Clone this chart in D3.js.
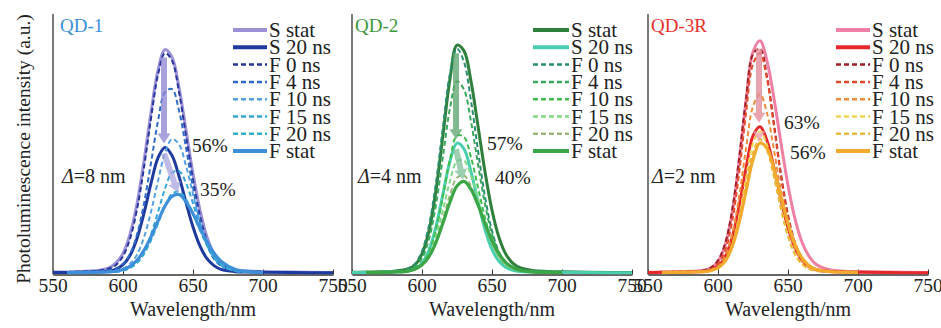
<!DOCTYPE html>
<html>
<head>
<meta charset="utf-8">
<script src="https://cdn.jsdelivr.net/npm/d3@7"></script>
<style>
  html, body { margin: 0; padding: 0; background: #fff; }
</style>
</head>
<body>
<svg id="chart" width="941" height="328"></svg>
<script>
// Wavelength grid (nm) shared by every spectrum
const wavelengths = [550, 560, 570, 580, 590, 595, 600, 605, 610, 615, 620, 625, 630, 635, 640, 645, 650, 655, 660, 665, 670, 680, 690, 700, 720, 750];

const seriesNames = ["S stat", "S 20 ns", "F 0 ns", "F 4 ns", "F 10 ns", "F 15 ns", "F 20 ns", "F stat"];
const panelTitles = ["QD-1", "QD-2", "QD-3R"];
const shiftLabels = ["8 nm", "4 nm", "2 nm"];
const tickValues = [550, 600, 650, 700, 750];

// Quench ratios printed beside the peaks: S 20 ns / S stat and F stat / S stat
const ratioS20 = [56, 57, 63];
const ratioFStat = [35, 40, 56];

// QD-1 photoluminescence spectra (a.u., S stat peak = 1)
const qd1SStat = [0.004,0.005,0.007,0.010,0.023,0.045,0.087,0.172,0.309,0.500,0.716,0.904,0.997,0.963,0.828,0.638,0.443,0.280,0.161,0.086,0.046,0.015,0.009,0.006,0.004,0.002];
const qd1S20   = [0.002,0.002,0.003,0.004,0.009,0.017,0.037,0.078,0.154,0.267,0.400,0.514,0.560,0.524,0.432,0.315,0.205,0.120,0.064,0.033,0.016,0.006,0.004,0.003,0.002,0.001];
const qd1F0    = [null,0.005,0.006,0.009,0.020,0.036,0.075,0.153,0.284,0.471,0.690,0.885,0.982,0.948,0.808,0.612,0.417,0.255,0.143,0.075,0.039,0.013,0.008,0.006,null,null];
const qd1F4    = [null,0.003,0.004,0.007,0.012,0.020,0.041,0.085,0.172,0.310,0.491,0.678,0.807,0.821,0.725,0.559,0.381,0.230,0.125,0.063,0.032,0.010,0.007,0.004,null,null];
const qd1F10   = [null,0.002,0.003,0.004,0.007,0.010,0.019,0.040,0.082,0.159,0.273,0.411,0.535,0.598,0.574,0.478,0.352,0.228,0.132,0.070,0.035,0.010,0.005,0.004,null,null];
const qd1F15   = [null,0.002,0.002,0.003,0.005,0.006,0.011,0.023,0.047,0.095,0.172,0.272,0.376,0.447,0.455,0.402,0.310,0.211,0.127,0.069,0.035,0.009,0.004,0.003,null,null];
const qd1F20   = [null,0.002,0.002,0.003,0.004,0.006,0.011,0.023,0.045,0.085,0.146,0.222,0.299,0.353,0.363,0.329,0.264,0.190,0.123,0.072,0.039,0.011,0.004,0.003,null,null];
const qd1FStat = [null,0.002,0.002,0.003,0.005,0.008,0.016,0.030,0.057,0.101,0.161,0.232,0.299,0.342,0.350,0.318,0.264,0.200,0.139,0.089,0.053,0.017,0.006,0.003,null,null];

// QD-2
const qd2SStat = [0.003,0.004,0.005,0.008,0.018,0.035,0.083,0.184,0.361,0.603,0.847,0.995,0.970,0.837,0.642,0.442,0.274,0.155,0.081,0.042,0.023,0.010,0.007,0.005,0.003,0.002];
const qd2S20   = [0.002,0.002,0.003,0.005,0.009,0.018,0.043,0.100,0.203,0.346,0.488,0.567,0.542,0.442,0.312,0.190,0.103,0.051,0.024,0.012,0.007,0.004,0.003,0.003,0.002,0.001];
const qd2F0    = [null,0.004,0.005,0.008,0.020,0.041,0.096,0.209,0.395,0.640,0.871,0.980,0.922,0.752,0.535,0.333,0.184,0.092,0.045,0.023,0.014,0.008,0.006,0.004,null,null];
const qd2F4    = [null,0.003,0.004,0.007,0.013,0.027,0.064,0.148,0.299,0.510,0.720,0.837,0.801,0.661,0.476,0.301,0.169,0.086,0.042,0.021,0.012,0.007,0.005,0.004,null,null];
const qd2F10   = [null,0.002,0.003,0.004,0.009,0.017,0.040,0.091,0.190,0.337,0.496,0.600,0.594,0.505,0.373,0.242,0.138,0.071,0.035,0.018,0.010,0.005,0.004,0.003,null,null];
const qd2F15   = [null,0.002,0.003,0.004,0.008,0.015,0.036,0.079,0.159,0.276,0.402,0.488,0.492,0.426,0.326,0.219,0.131,0.071,0.036,0.018,0.010,0.005,0.003,0.002,null,null];
const qd2F20   = [null,0.002,0.002,0.003,0.008,0.014,0.033,0.071,0.139,0.236,0.341,0.416,0.426,0.378,0.296,0.206,0.129,0.072,0.038,0.019,0.010,0.004,0.003,0.002,null,null];
const qd2FStat = [null,0.002,0.002,0.004,0.008,0.017,0.036,0.072,0.134,0.219,0.310,0.380,0.400,0.365,0.297,0.217,0.141,0.084,0.045,0.024,0.012,0.004,0.003,0.002,null,null];

// QD-3R
const qd3SStat = [0.003,0.004,0.005,0.007,0.012,0.022,0.050,0.117,0.254,0.474,0.739,0.949,0.997,0.910,0.749,0.557,0.377,0.232,0.132,0.072,0.038,0.014,0.008,0.006,0.004,0.002];
const qd3S20   = [0.002,0.003,0.003,0.004,0.007,0.013,0.029,0.068,0.149,0.283,0.449,0.589,0.628,0.569,0.451,0.315,0.195,0.108,0.055,0.028,0.014,0.006,0.004,0.003,0.002,0.001];
const qd3F0    = [null,0.004,0.005,0.007,0.012,0.023,0.054,0.125,0.265,0.488,0.746,0.939,0.963,0.843,0.640,0.425,0.250,0.131,0.065,0.031,0.017,0.009,0.006,0.005,null,null];
const qd3F4    = [null,0.004,0.005,0.006,0.010,0.017,0.039,0.094,0.217,0.425,0.685,0.897,0.943,0.832,0.628,0.412,0.238,0.122,0.058,0.028,0.015,0.008,0.005,0.004,null,null];
const qd3F10   = [null,0.003,0.004,0.005,0.008,0.013,0.028,0.070,0.163,0.324,0.534,0.715,0.768,0.687,0.527,0.350,0.204,0.105,0.052,0.024,0.013,0.006,0.004,0.003,null,null];
const qd3F15   = [null,0.003,0.003,0.004,0.006,0.010,0.020,0.051,0.120,0.242,0.406,0.556,0.609,0.550,0.422,0.277,0.157,0.079,0.037,0.018,0.009,0.005,0.003,0.002,null,null];
const qd3F20   = [null,0.002,0.003,0.004,0.006,0.010,0.022,0.052,0.118,0.231,0.380,0.517,0.575,0.527,0.411,0.274,0.158,0.081,0.039,0.017,0.009,0.005,0.003,0.002,null,null];
const qd3FStat = [null,0.002,0.003,0.004,0.006,0.011,0.022,0.050,0.111,0.214,0.351,0.487,0.558,0.535,0.446,0.328,0.213,0.123,0.065,0.032,0.016,0.006,0.004,0.003,null,null];

// Colour sets, one per quantum dot, in seriesNames order
const qd1Colors = ["#9b90d6", "#1f3a9e", "#28369c", "#2f6cc6", "#55a0e0", "#34a4dc", "#2fb0cc", "#3c8fd8"];
const qd2Colors = ["#2f7f3c", "#48cfae", "#2a8f6e", "#3aa85c", "#40bc4a", "#80d888", "#9db87c", "#3aa646"];
const qd3Colors = ["#ee80a3", "#e6282a", "#9e1f24", "#e24c2c", "#ec8c3c", "#f0d455", "#e8b840", "#f2aa2c"];
const titleColors = ["#3a8fda", "#3c963c", "#e8302a"];
const arrowColors = [["#8e86d2", "#aaa4de"], ["#5fa56e", "#7cc09a"], ["#e48b9a", "#ee9aa6"]];

// ---- layout ----
const FONT = "'Liberation Serif'";
const svg = d3.select("#chart");
const baseY = 273, topY = 14, axisY = 274.5;
const panelLeft = [53, 352, 648];
const panelW = 280;
const yMax = [1.156, 1.131, 1.112];
const lineStyle = [
  { w: 3, dash: null }, { w: 3, dash: null },
  { w: 2, dash: "5,3" }, { w: 2, dash: "5,3" }, { w: 2, dash: "5,3" },
  { w: 2, dash: "5,3" }, { w: 2, dash: "5,3" }, { w: 3.2, dash: null }
];

const panels = [
  { series: [qd1SStat, qd1S20, qd1F0, qd1F4, qd1F10, qd1F15, qd1F20, qd1FStat], colors: qd1Colors,
    legendX: 233, legendLen: 34, pct1: [192, 152], pct2: [200, 196], deltaX: 62, titleX: 60 },
  { series: [qd2SStat, qd2S20, qd2F0, qd2F4, qd2F10, qd2F15, qd2F20, qd2FStat], colors: qd2Colors,
    legendX: 533, legendLen: 36, pct1: [487, 150], pct2: [495, 184], deltaX: 358, titleX: 355 },
  { series: [qd3SStat, qd3S20, qd3F0, qd3F4, qd3F10, qd3F15, qd3F20, qd3FStat], colors: qd3Colors,
    legendX: 836, legendLen: 34, pct1: [784, 129], pct2: [790, 159], deltaX: 652, titleX: 651 }
];

function arrowPath(x1, y1, x2, y2, shaft, head, headLen) {
  const dx = x2 - x1, dy = y2 - y1, len = Math.hypot(dx, dy);
  const ux = dx / len, uy = dy / len, px = -uy, py = ux;
  const bx = x2 - ux * headLen, by = y2 - uy * headLen;
  const p = [
    [x1 + px * shaft / 2, y1 + py * shaft / 2],
    [bx + px * shaft / 2, by + py * shaft / 2],
    [bx + px * head / 2, by + py * head / 2],
    [x2, y2],
    [bx - px * head / 2, by - py * head / 2],
    [bx - px * shaft / 2, by - py * shaft / 2],
    [x1 - px * shaft / 2, y1 - py * shaft / 2]
  ];
  return "M" + p.map(q => q.join(",")).join("L") + "Z";
}

function label(parent, xPos, yPos, size, txt) {
  return parent.append("text").attr("x", xPos).attr("y", yPos)
    .style("font-family", FONT).style("font-size", size + "px")
    .style("fill", "#222").text(txt);
}

panels.forEach((panel, pi) => {
  const x0 = panelLeft[pi];
  const x = d3.scaleLinear().domain([550, 750]).range([x0, x0 + panelW]);
  const y = d3.scaleLinear().domain([0, yMax[pi]]).range([baseY, topY]);
  const g = svg.append("g");

  // x axis line with short inward ticks; labels placed as plain text
  const xAxis = d3.axisBottom(x).tickValues(tickValues).tickSize(0).tickFormat(() => "");
  const ax = g.append("g").attr("transform", `translate(0,${axisY})`).call(xAxis);
  ax.select(".domain").attr("stroke", "#333").attr("stroke-width", 1.3);
  ax.selectAll(".tick text").remove();
  ax.selectAll(".tick").append("line").attr("y1", 0).attr("y2", -5).attr("stroke", "#333").attr("stroke-width", 1);
  tickValues.forEach(t => {
    label(svg, x(t), axisY + 17, 19.5, String(t)).attr("text-anchor", "middle");
  });

  // y axis line
  g.append("line").attr("x1", x0).attr("x2", x0).attr("y1", topY).attr("y2", axisY)
    .attr("stroke", "#333").attr("stroke-width", 1.3);

  // spectra
  const line = d3.line()
    .defined(d => d[1] !== null)
    .x(d => x(d[0])).y(d => y(d[1]))
    .curve(d3.curveCatmullRom.alpha(0.5));
  panel.series.forEach((vals, si) => {
    const pts = wavelengths.map((w, i) => [w, vals[i]]);
    g.append("path").attr("d", line(pts)).attr("fill", "none")
      .attr("stroke", panel.colors[si]).attr("stroke-width", lineStyle[si].w)
      .attr("stroke-dasharray", lineStyle[si].dash)
      .attr("stroke-linejoin", "round").attr("stroke-linecap", "butt");
  });

  // arrows: S stat peak -> S 20 ns peak -> F stat peak
  const peak = vals => { const i = d3.maxIndex(vals); return [wavelengths[i], vals[i]]; };
  const pS = peak(panel.series[0]), p20 = peak(panel.series[1]), pF = peak(panel.series[7]);
  const ax1 = x(pS[0]) - 1;
  g.append("path").attr("d", arrowPath(ax1, y(pS[1]) + 8, ax1, y(p20[1]) - 4, 6, 13, 10))
    .attr("fill", arrowColors[pi][0]).attr("opacity", 0.78);
  g.append("path").attr("d", arrowPath(ax1, y(p20[1]) + 6, x(pF[0]) - 1, y(pF[1]) - 2, 6, 13, 10))
    .attr("fill", arrowColors[pi][1]).attr("opacity", 0.75);

  // ratio labels
  label(svg, panel.pct1[0], panel.pct1[1], 19.5, ratioS20[pi] + "%");
  label(svg, panel.pct2[0], panel.pct2[1], 19.5, ratioFStat[pi] + "%");

  // peak shift label
  const dt = label(svg, panel.deltaX, 183, 20, "");
  dt.append("tspan").style("font-style", "italic").text("Δ");
  dt.append("tspan").text("=" + shiftLabels[pi]);

  // panel title
  label(svg, panel.titleX, 32, 19, panelTitles[pi]).style("fill", titleColors[pi]);

  // legend
  seriesNames.forEach((name, si) => {
    const cy = 30 + si * 17.3;
    g.append("line").attr("x1", panel.legendX).attr("x2", panel.legendX + panel.legendLen)
      .attr("y1", cy).attr("y2", cy)
      .attr("stroke", panel.colors[si]).attr("stroke-width", lineStyle[si].dash ? 2.5 : 4)
      .attr("stroke-dasharray", lineStyle[si].dash ? "5,3" : null);
    label(svg, panel.legendX + panel.legendLen + 2, cy + 7, 21, name);
  });

  // x title
  label(svg, x(650), 316, 20, "Wavelength/nm").attr("text-anchor", "middle");
});

// y title
label(svg, 0, 0, 19.5, "Photoluminescence intensity (a.u.)")
  .attr("transform", "translate(30,149) rotate(-90)").attr("text-anchor", "middle");
</script>
</body>
</html>
